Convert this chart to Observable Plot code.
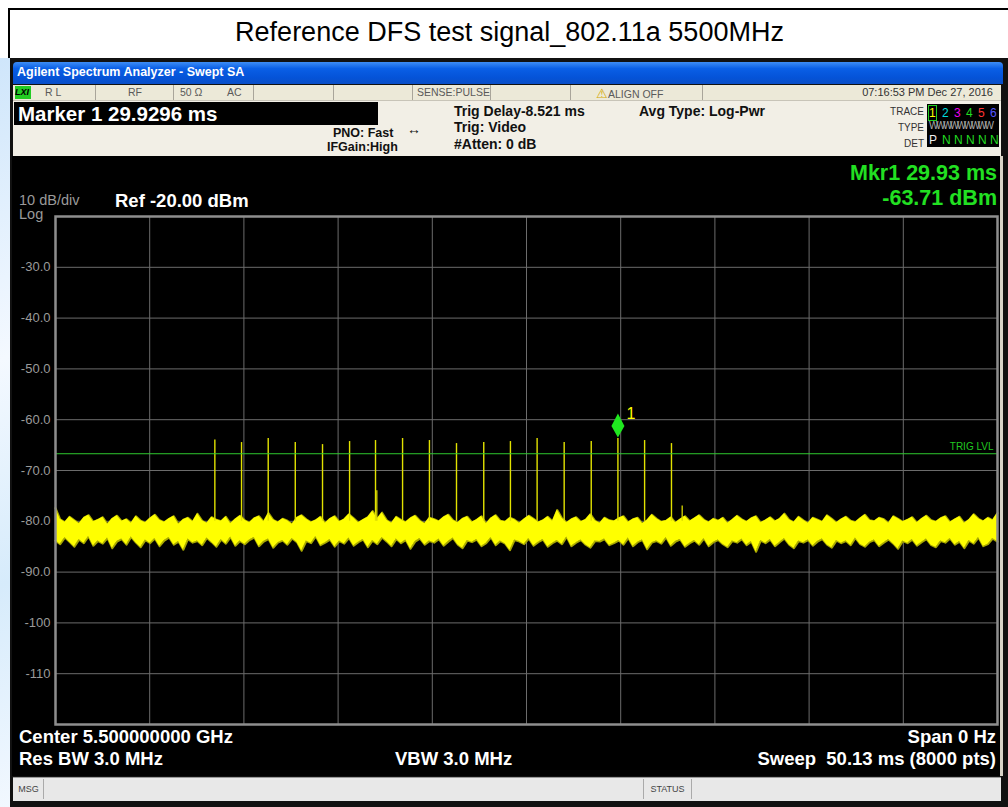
<!DOCTYPE html>
<html><head><meta charset="utf-8">
<script src="https://cdn.jsdelivr.net/npm/d3@7"></script>
<script src="https://cdn.jsdelivr.net/npm/@observablehq/plot@0.6"></script>
<style>
html,body{margin:0;padding:0;}
body{width:1008px;height:807px;position:relative;overflow:hidden;background:#fff;font-family:"Liberation Sans",Arial,sans-serif;}
.a{position:absolute;white-space:nowrap;}
.st{font-size:10.5px;color:#5a5a5a;top:86px;}
.sep{position:absolute;top:85px;width:1px;height:15px;background:#a9a59a;}
.inf{font-size:12.5px;font-weight:bold;color:#111;}
.inf2{font-size:14px;font-weight:bold;color:#111;}
.wt{color:#fff;font-weight:bold;font-size:18.5px;line-height:20px;}
.gr{color:#22e022;font-weight:bold;font-size:21.5px;line-height:22px;}
.tb span{position:absolute;top:0;}
</style></head><body>
<div class="a" style="left:8px;top:8px;width:1010px;height:48px;border:2px solid #000;background:#fff;"></div>
<div class="a" style="left:8px;top:17px;width:1003px;text-align:center;font-size:27px;color:#000;">Reference DFS test signal_802.11a 5500MHz</div>
<div class="a" style="left:0;top:58px;width:12px;height:749px;background:linear-gradient(160deg,#cfe6fb,#f4f9ff 40%,#d6ebfb 70%,#f2f8ff);"></div>
<div class="a" style="left:10px;top:58px;width:998px;height:749px;background:#111;"></div>
<div class="a" style="left:13px;top:62px;width:990px;height:22px;background:linear-gradient(#3d8df5,#0a5fe6 30%,#0553d8 70%,#0a4fc8);border-radius:4px 4px 0 0;"></div>
<div class="a" style="left:17px;top:65px;color:#fff;font-weight:bold;font-size:12.5px;">Agilent Spectrum Analyzer - Swept SA</div>
<div class="a" style="left:13px;top:85px;width:988px;height:15px;background:#ece9d8;"></div>
<div class="a" style="left:15px;top:86px;width:16px;height:13px;background:#22cc22;font-size:9px;font-weight:bold;font-style:italic;color:#000;line-height:13px;">LXI</div>
<div class="a st" style="left:45px;">R L</div>
<div class="sep" style="left:95px;"></div>
<div class="a st" style="left:128px;">RF</div>
<div class="sep" style="left:173px;"></div>
<div class="a st" style="left:180px;">50 Ω</div>
<div class="a st" style="left:227px;">AC</div>
<div class="sep" style="left:253px;"></div>
<div class="sep" style="left:333px;"></div>
<div class="sep" style="left:412px;"></div>
<div class="a st" style="left:417px;">SENSE:PULSE</div>
<div class="sep" style="left:490px;"></div>
<div class="sep" style="left:570px;"></div>
<div class="a st" style="left:596px;"><span style="color:#d4a800;font-size:13px;">⚠</span>ALIGN OFF</div>
<div class="sep" style="left:702px;"></div>
<div class="a st" style="left:845px;width:148px;text-align:right;color:#333;font-size:11px;">07:16:53 PM Dec 27, 2016</div>
<div class="a" style="left:13px;top:100px;width:988px;height:56px;background:#f2efe6;border-top:1px solid #c8c4b8;"></div>
<div class="a" style="left:14px;top:102px;width:364px;height:23px;background:#000;"></div>
<div class="a" style="left:18px;top:102px;color:#fff;font-weight:bold;font-size:20.5px;">Marker 1 29.9296 ms</div>
<div class="a inf" style="left:333px;top:126px;">PNO: Fast</div>
<div class="a inf" style="left:327px;top:140px;">IFGain:High</div>
<div class="a" style="left:407px;top:121px;font-size:14px;color:#111;">↔</div>
<div class="a inf2" style="left:454px;top:103px;">Trig Delay-8.521 ms</div>
<div class="a inf2" style="left:454px;top:119px;">Trig: Video</div>
<div class="a inf2" style="left:454px;top:136px;">#Atten: 0 dB</div>
<div class="a inf2" style="left:639px;top:103px;">Avg Type: Log-Pwr</div>
<div class="a" style="left:860px;top:104px;width:64px;text-align:right;font-size:10px;color:#333;line-height:16px;">TRACE<br>TYPE<br>DET</div>
<div class="a" style="left:927px;top:104px;width:72px;height:43px;background:#000;font-size:12px;line-height:14px;">
 <div class="tb" style="position:absolute;left:0;top:2px;width:72px;height:14px;"><span style="left:2px;color:#ff0;outline:1px solid #2c2;">1</span><span style="left:15px;color:#0dd">2</span><span style="left:27px;color:#e0e">3</span><span style="left:39px;color:#2d2">4</span><span style="left:51px;color:#f33">5</span><span style="left:63px;color:#55f">6</span></div>
 <div style="position:absolute;left:2px;top:15px;color:#aaa;font-size:10px;letter-spacing:-2.5px;">WWWWWWWWW</div>
 <div class="tb" style="position:absolute;left:0;top:29px;width:72px;height:14px;"><span style="left:2px;color:#eee">P</span><span style="left:15px;color:#2d2">N</span><span style="left:27px;color:#2d2">N</span><span style="left:39px;color:#2d2">N</span><span style="left:51px;color:#2d2">N</span><span style="left:63px;color:#2d2">N</span></div>
</div>
<div class="a" style="left:13px;top:156px;width:988px;height:620px;background:#000;"></div>
<div class="a" style="left:1000px;top:156px;width:3px;height:620px;background:#d8d4c8;"></div>
<div id="chart" class="a" style="left:12px;top:156px;"></div>
<div class="a" style="left:19px;top:194px;color:#9a9a9a;font-size:14.5px;line-height:13px;">10 dB/div</div>
<div class="a" style="left:19px;top:208px;color:#9a9a9a;font-size:14.5px;line-height:12px;">Log</div>
<div class="a wt" style="left:115px;top:191px;">Ref -20.00 dBm</div>
<div class="a gr" style="left:700px;top:162px;width:297px;text-align:right;">Mkr1 29.93 ms</div>
<div class="a gr" style="left:700px;top:187px;width:297px;text-align:right;">-63.71 dBm</div>
<div class="a wt" style="left:19px;top:727px;">Center 5.500000000 GHz</div>
<div class="a wt" style="left:19px;top:749px;">Res BW 3.0 MHz</div>
<div class="a wt" style="left:395px;top:749px;">VBW 3.0 MHz</div>
<div class="a wt" style="left:700px;top:727px;width:296px;text-align:right;">Span 0 Hz</div>
<div class="a wt" style="left:700px;top:749px;width:296px;text-align:right;">Sweep&nbsp;&nbsp;50.13 ms (8000 pts)</div>
<div class="a" style="left:13px;top:777px;width:988px;height:23px;background:#e8e8e8;border-top:1px solid #999;"></div>
<div class="a" style="left:14px;top:779px;width:29px;height:20px;border-right:1px solid #aaa;font-size:9px;color:#444;line-height:20px;text-align:center;">MSG</div>
<div class="a" style="left:643px;top:779px;width:47px;height:20px;border-left:1px solid #aaa;border-right:1px solid #aaa;font-size:9px;color:#444;line-height:20px;text-align:center;">STATUS</div>
<script>
const sweepMs = 50.13;
const yDomain = [-120, -20];
const yTicks = [-30, -40, -50, -60, -70, -80, -90, -100, -110];
const xDivisions = 10;
const trigLevel = -66.7;
const markerTime = 29.93;
const markerLevel = -63.71;
const pulseTimes = [8.48, 9.90, 11.32, 12.76, 14.21, 15.65, 17.03, 18.47, 19.90, 21.34, 22.79, 24.21, 25.63, 27.07, 28.51, 29.93, 31.35, 32.78];
const pulsePeaks = [-64.0, -64.5, -63.7, -64.5, -64.9, -64.3, -64.1, -63.7, -64.1, -64.7, -64.5, -64.3, -63.7, -64.5, -64.3, -63.71, -64.1, -64.7];
const spikeTimes = [17.10, 33.35];
const spikePeaks = [-74.0, -77.0];
const noiseHi = [
-77.4,-79.6,-80.2,-79.1,-79.8,-80.5,-79.3,-78.8,-80.1,-79.7,-79.2,-80.6,-79.5,-78.9,-80.0,-79.6,-80.4,-79.0,-79.9,-80.3,
-79.4,-78.7,-79.8,-80.2,-79.5,-79.0,-80.6,-79.7,-79.3,-80.1,-78.5,-79.9,-80.4,-79.2,-79.7,-80.0,-79.1,-80.5,-79.6,-78.9,
-79.8,-80.3,-79.4,-79.0,-80.1,-78.4,-79.7,-80.2,-79.5,-79.9,-80.6,-79.3,-78.8,-79.6,-80.2,-79.8,-79.1,-80.4,-79.5,-79.0,
-80.1,-79.6,-78.6,-79.4,-80.3,-79.7,-79.2,-78.0,-79.5,-78.3,-79.8,-80.4,-79.1,-79.7,-80.2,-79.4,-78.9,-79.9,-80.5,-79.3,
-79.6,-80.0,-79.2,-78.7,-79.8,-80.3,-79.5,-79.1,-80.2,-79.7,-79.0,-80.5,-79.4,-78.8,-79.9,-80.1,-79.3,-79.7,-80.4,-79.6,
-78.9,-79.5,-80.2,-79.8,-79.1,-80.0,-77.8,-79.4,-80.3,-79.6,-79.2,-80.1,-79.7,-78.6,-79.9,-80.4,-79.3,-79.8,-80.0,-79.4,
-79.0,-80.2,-79.6,-79.3,-80.5,-79.8,-78.7,-79.5,-80.1,-79.9,-79.2,-80.3,-79.6,-79.0,-80.0,-79.4,-78.8,-79.7,-80.2,-79.5,
-79.9,-79.3,-80.4,-79.7,-78.9,-79.6,-80.1,-79.4,-79.0,-80.3,-79.8,-79.2,-80.0,-79.5,-78.5,-79.7,-80.2,-79.1,-79.8,-80.4,
-79.3,-79.7,-80.1,-78.8,-79.5,-80.3,-79.6,-79.1,-79.9,-80.2,-79.4,-78.7,-79.8,-80.0,-79.3,-79.6,-80.4,-79.0,-79.5,-80.1,
-79.7,-79.2,-80.3,-79.5,-78.9,-79.8,-80.1,-79.4,-79.0,-80.2,-79.6,-79.1,-80.4,-79.7,-78.6,-79.5,-80.0,-79.3,-79.8,-78.4];
const noiseLo = [
-83.8,-84.5,-83.2,-84.1,-85.0,-83.6,-84.3,-83.0,-84.8,-83.9,-84.4,-83.3,-85.3,-84.0,-83.5,-84.6,-83.1,-84.2,-85.1,-83.7,
-84.3,-83.4,-84.9,-83.8,-83.2,-84.6,-84.0,-85.6,-83.5,-84.2,-83.9,-84.7,-83.3,-84.1,-85.0,-83.6,-84.4,-83.1,-84.8,-83.9,
-84.5,-83.7,-83.2,-84.9,-84.0,-83.5,-85.2,-84.2,-83.8,-84.6,-83.4,-84.1,-85.8,-83.9,-84.3,-83.0,-84.7,-84.2,-83.6,-85.0,
-83.9,-84.4,-83.3,-84.8,-84.1,-83.6,-85.1,-83.8,-84.5,-83.2,-84.0,-84.9,-83.5,-84.3,-83.7,-85.4,-84.0,-83.4,-84.6,-83.9,
-84.2,-83.5,-84.8,-84.0,-83.3,-84.6,-85.3,-83.8,-84.1,-83.6,-84.9,-84.3,-83.2,-84.7,-83.9,-84.4,-85.7,-83.7,-84.0,-84.5,
-83.4,-84.8,-84.1,-83.6,-85.0,-84.3,-83.8,-84.5,-83.1,-84.9,-84.2,-83.7,-84.6,-85.2,-83.9,-84.0,-83.5,-84.7,-84.3,-83.8,
-84.6,-83.3,-84.9,-84.1,-83.7,-85.5,-84.2,-83.9,-84.4,-83.2,-84.8,-84.0,-83.6,-85.0,-84.3,-83.8,-84.6,-83.4,-84.9,-84.1,
-83.7,-84.5,-85.1,-83.9,-84.2,-83.5,-84.7,-84.0,-86.0,-83.8,-84.3,-83.6,-84.9,-84.1,-83.4,-84.6,-85.3,-83.9,-84.2,-83.7,
-84.8,-84.0,-83.5,-84.6,-85.2,-83.8,-84.3,-83.9,-84.7,-83.3,-84.5,-85.0,-84.1,-83.7,-84.9,-84.2,-83.6,-84.4,-85.4,-83.9,
-84.3,-83.6,-84.8,-84.1,-83.5,-84.7,-85.1,-83.9,-84.2,-83.4,-84.6,-84.0,-85.3,-83.8,-84.4,-83.2,-84.9,-84.5,-83.4,-84.0];

const noise = noiseHi.map((hi, i) => ({t: i * sweepMs / (noiseHi.length - 1), hi, lo: noiseLo[i]}));
const pulses = pulseTimes.map((t, i) => ({t, peak: pulsePeaks[i]}));
const spikes = spikeTimes.map((t, i) => ({t, peak: spikePeaks[i]}));
const xGrid = d3.range(xDivisions + 1).map(i => i * sweepMs / xDivisions);
const marker = [{t: markerTime, v: markerLevel}];
const diamond = {draw(ctx) { ctx.moveTo(0, -25); ctx.lineTo(6.5, -12.5); ctx.lineTo(0, -1); ctx.lineTo(-6.5, -12.5); ctx.closePath(); }};

const chart = Plot.plot({
  width: 988, height: 620,
  marginLeft: 43, marginRight: 3, marginTop: 60, marginBottom: 52,
  style: {background: "#000", fontFamily: "Liberation Sans, Arial, sans-serif"},
  x: {domain: [0, sweepMs], axis: null},
  y: {domain: yDomain, axis: null},
  marks: [
    Plot.gridX(xGrid, {stroke: "#6c6c6c", strokeOpacity: 1, strokeWidth: 1}),
    Plot.gridY(yTicks, {stroke: "#6c6c6c", strokeOpacity: 1, strokeWidth: 1}),
    Plot.axisY(yTicks, {tickSize: 0, tickPadding: 5, fontSize: 13, color: "#9a9a9a", label: null,
      tickFormat: d => Math.abs(d) >= 100 ? String(d) : d.toFixed(1)}),
    Plot.line(noise, {x: "t", y: "hi", stroke: "#a8a800", strokeWidth: 2}),
    Plot.line(noise, {x: "t", y: "lo", stroke: "#a8a800", strokeWidth: 2}),
    Plot.areaY(noise, {x: "t", y1: "lo", y2: "hi", fill: "#ffff00"}),
    Plot.ruleX(spikes, {x: "t", y1: -80, y2: "peak", stroke: "#d6d600", strokeWidth: 1.3}),
    Plot.ruleX(pulses, {x: "t", y1: -80, y2: "peak", stroke: "#e2e200", strokeWidth: 1.4}),
    Plot.ruleY([trigLevel], {stroke: "#2ec82e", strokeWidth: 1}),
    Plot.text([trigLevel], {y: d => d, text: () => "TRIG LVL", frameAnchor: "right", textAnchor: "end", dx: -4, dy: -7, fill: "#20c820", fontSize: 10}),
    Plot.frame({stroke: "#8e8e8e", strokeWidth: 2.5}),
    Plot.dot(marker, {x: "t", y: "v", symbol: diamond, fill: "#1fe81f", stroke: "none"}),
    Plot.text(marker, {x: "t", y: "v", text: () => "1", dx: 13, dy: -25, fill: "#ffff00", fontSize: 16})
  ]
});
document.getElementById("chart").appendChild(chart);
</script>
</body></html>
